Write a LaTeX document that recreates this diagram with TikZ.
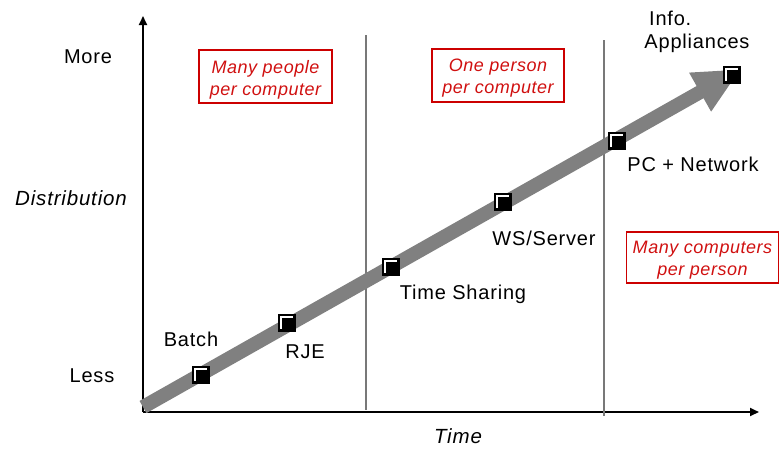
\documentclass[tikz,border=0pt]{standalone}
\usepackage{fontspec}
\setmainfont{Liberation Sans}
\newfontfamily\lblfont{Liberation Sans}[LetterSpace=4]
\newfontfamily\redfont{Liberation Sans}[LetterSpace=3]
\usetikzlibrary{arrows.meta}
\definecolor{boxred}{RGB}{204,0,0}
\definecolor{txtred}{RGB}{208,16,16}
\definecolor{band}{RGB}{128,128,128}
\definecolor{divider}{RGB}{120,120,120}
\tikzset{
  lbl/.style={inner sep=0pt, font=\lblfont\fontsize{20}{24}\selectfont, text=black},
  ilbl/.style={inner sep=0pt, font=\lblfont\fontsize{20.5}{24}\selectfont\itshape, text=black},
  redbox/.style={draw=boxred, line width=1.5pt, inner sep=0pt},
  redtext/.style={text=txtred, align=center, inner sep=0pt,
    font=\redfont\fontsize{18}{22}\selectfont\itshape},
  sq/.style={draw=black, fill=black, minimum size=17pt, inner sep=0pt, line width=1pt,
    path picture={\draw[white,line width=1.3pt]
      ([xshift=2.5pt,yshift=3pt]path picture bounding box.south west) |-
      ([xshift=-3pt,yshift=-2.5pt]path picture bounding box.north east);}},
  axis/.style={line width=2pt, -{Triangle[length=9pt,width=8pt]}},
  div/.style={draw=divider, line width=1.5pt}
}
\begin{document}
\begin{tikzpicture}[x=1pt,y=-1pt]
\useasboundingbox (0,0) rectangle (780,448);
% axes
\coordinate (O) at (143,412);
\coordinate (Ytop) at (143,16);
\coordinate (Xend) at (759,412);
\draw[axis] (O) -- (Ytop);
\draw[axis] (O) -- (Xend);
% dividers
\coordinate (d1t) at (366,35);
\coordinate (d1b) at (366,410);
\coordinate (d2t) at (604,40);
\coordinate (d2b) at (604,416);
\draw[div] (d1t) -- (d1b);
\draw[div] (d2t) -- (d2b);
% band arrow
\coordinate (start) at (143,407);
\coordinate (tip) at (741,69);
\draw[band, line width=14pt, -{Triangle[length=47pt,width=41pt]}] (start) -- (tip);
% squares
\node[sq] (batch) at (201,375) {};
\node[sq] (rje) at (287,323) {};
\node[sq] (ts) at (391,267) {};
\node[sq] (ws) at (503,202) {};
\node[sq] (pc) at (617,141) {};
\node[sq] (info) at (732,75) {};
% axis labels
\node[lbl] (more) at (88,57) {More};
\node[ilbl] (dist) at (71,198) {Distribution};
\node[lbl] (less) at (92,376) {Less};
\node[ilbl] (time) at (458,436) {Time};
% point labels
\node[lbl] (lbatch) at (191,339) {Batch};
\node[lbl] (lrje) at (305,352) {RJE};
\node[lbl] (lts) at (463,294) {Time Sharing};
\node[lbl] (lws) at (544,238) {WS/Server};
\node[lbl] (lpc) at (693,164) {PC + Network};
\node[lbl, anchor=west] (linfo) at (649,18) {Info.};
\node[lbl] (lapp) at (697,43) {Appliances};
% red boxes
\node[redbox, minimum width=133pt, minimum height=53pt] (b1) at (265.5,76.5) {};
\node[redtext] (t1) at ([yshift=-3.5pt]b1.center) {Many people\\per computer};
\node[redbox, minimum width=132pt, minimum height=53pt] (b2) at (498,75.5) {};
\node[redtext] (t2) at ([yshift=-3pt]b2.center) {One person\\per computer};
\node[redbox, minimum width=152pt, minimum height=51pt] (b3) at (702.5,257.5) {};
\node[redtext] (t3) at ([yshift=-2.5pt]b3.center) {Many computers\\per person};
\end{tikzpicture}
\end{document}
